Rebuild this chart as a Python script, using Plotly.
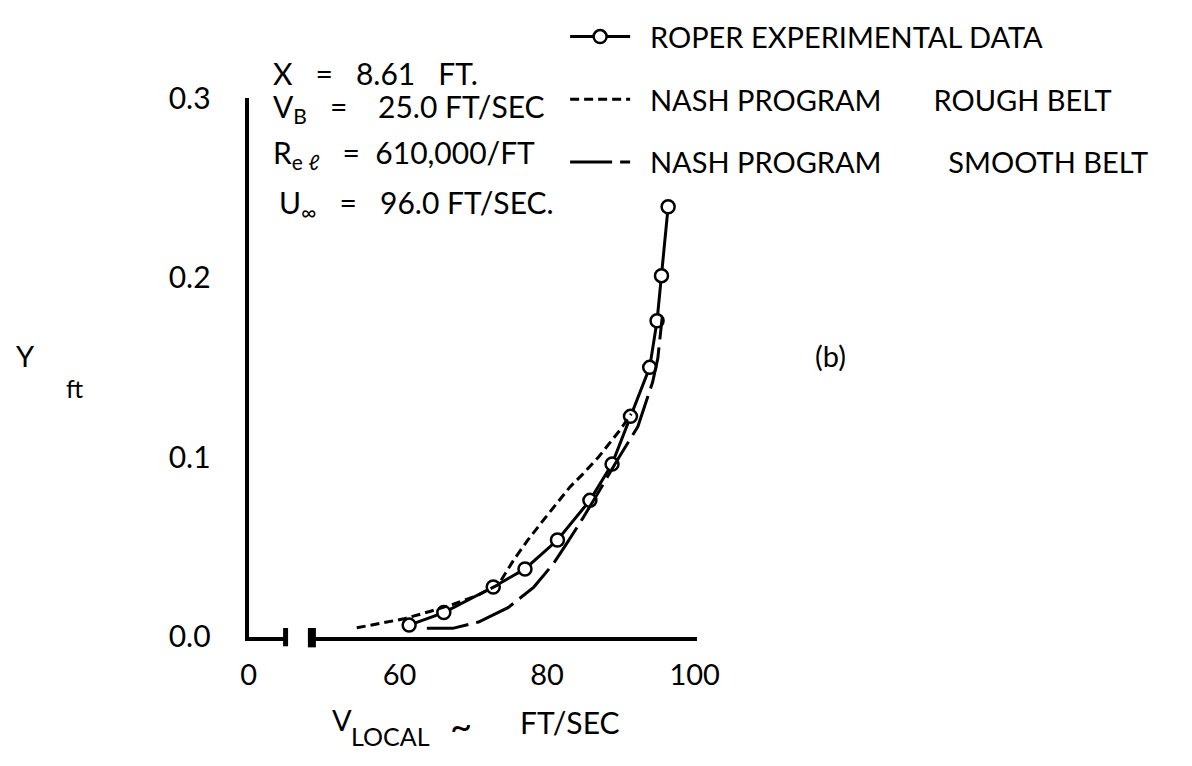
import plotly.graph_objects as go

# ---------------- data ----------------
roper_v = [61.3, 66.0, 72.7, 77.0, 81.4, 85.8, 88.8, 91.3, 93.9, 94.9, 95.5, 96.4]
roper_y = [0.0064, 0.0134, 0.0276, 0.0377, 0.0538, 0.0759, 0.0961, 0.1227, 0.150, 0.176, 0.2011, 0.2395]

rough_v = [54.2, 60.6, 64.1, 67.2, 70.5, 73.4, 75.6, 77.3, 79.3, 81.3, 83.1, 84.8, 87.0, 89.9, 91.4]
rough_y = [0.0049, 0.0099, 0.0140, 0.0179, 0.0228, 0.0290, 0.0435, 0.0533, 0.0639, 0.0745, 0.0834, 0.0904, 0.1002, 0.1152, 0.1241]

smooth_v = [63.7, 67.2, 70.7, 74.7, 78.2, 80.9, 82.6, 84.8, 87.0, 89.4, 92.3, 94.3, 95.0, 95.6]
smooth_y = [0.0046, 0.0046, 0.0081, 0.0161, 0.0276, 0.0409, 0.0515, 0.0657, 0.0807, 0.0976, 0.117, 0.1418, 0.155, 0.178]

y_ticks = [0.0, 0.1, 0.2, 0.3]
y_ticktext = ["0.0", "0.1", "0.2", "0.3"]
x_left_ticks = [0]
x_right_ticks = [60, 80, 100]

FONT = "Lato"
W, H = 1192, 766
NB = "\u00a0"

fig = go.Figure()

# empty trace so that the short left piece of the broken x axis is drawn
fig.add_trace(go.Scatter(x=[], y=[], xaxis="x", yaxis="y", mode="lines",
                         showlegend=False, hoverinfo="skip"))

fig.add_trace(go.Scatter(
    x=roper_v, y=roper_y, xaxis="x2", yaxis="y", mode="lines+markers",
    name=NB * 2 + "ROPER EXPERIMENTAL DATA", legendgroup="a",
    line=dict(color="black", width=3),
    marker=dict(symbol="circle", size=13, color="white", line=dict(color="black", width=2.5)),
))
fig.add_trace(go.Scatter(
    x=rough_v, y=rough_y, xaxis="x2", yaxis="y", mode="lines",
    name=NB * 2 + "NASH PROGRAM" + NB * 7 + "ROUGH BELT", legendgroup="b",
    line=dict(color="black", width=3, dash="9px,5px"),
))
fig.add_trace(go.Scatter(
    x=smooth_v, y=smooth_y, xaxis="x2", yaxis="y", mode="lines",
    name=NB * 2 + "NASH PROGRAM" + NB * 9 + "SMOOTH BELT", legendgroup="c",
    line=dict(color="black", width=3, dash="42px,8px"),
))

def px_x(p):
    return p / W

def px_y(p):
    return 1 - p / H

axis_common = dict(showline=True, linecolor="black", linewidth=4, showgrid=False,
                   zeroline=False, ticks="", fixedrange=True)

fig.update_layout(
    width=W, height=H,
    margin=dict(l=0, r=0, t=0, b=0),
    paper_bgcolor="white", plot_bgcolor="white",
    font=dict(family=FONT, color="black", size=28),
    xaxis=dict(domain=[px_x(247), px_x(285)], range=[0, 5.0], anchor="y",
               tickvals=x_left_ticks, ticktext=[str(v) for v in x_left_ticks],
               ticklabelstandoff=10, tickfont=dict(family=FONT, size=29, color="black"),
               **axis_common),
    xaxis2=dict(domain=[px_x(312), px_x(707)], range=[48.12, 100.26], anchor="y",
                tickvals=x_right_ticks, ticktext=[str(v) for v in x_right_ticks],
                ticklabelstandoff=10, tickfont=dict(family=FONT, size=29, color="black"),
                **axis_common),
    yaxis=dict(domain=[px_y(647), px_y(82)], range=[0, 0.3], anchor="x",
               tickvals=y_ticks, ticktext=y_ticktext, ticklabelstandoff=28,
               tickfont=dict(family=FONT, size=30, color="black"), **axis_common),
    showlegend=True,
    legend=dict(x=px_x(572), y=1.012, xanchor="left", yanchor="top",
                font=dict(family=FONT, size=29, color="black"),
                traceorder="grouped", tracegroupgap=22, itemwidth=60,
                bgcolor="rgba(0,0,0,0)", borderwidth=0),
)

# axis-break end marks
fig.add_shape(type="line", xref="x domain", yref="y domain", x0=1, x1=1, y0=-0.018, y1=0.016,
              line=dict(color="black", width=5))
fig.add_shape(type="line", xref="x2 domain", yref="y domain", x0=0, x1=0, y0=-0.02, y1=0.016,
              line=dict(color="black", width=8))

def ann(text, x, y, size=30, xanchor="left"):
    fig.add_annotation(text=text, xref="paper", yref="paper", x=px_x(x), y=px_y(y),
                       xanchor=xanchor, yanchor="middle", showarrow=False,
                       font=dict(family=FONT, size=size, color="black"))

ann("X" + NB * 3 + "=" + NB * 3 + "8.61" + NB * 3 + "FT.", 270, 56)
ann("V<sub>B</sub>" + NB * 3 + "=" + NB * 4 + "25.0 FT/SEC", 270, 92)
ann("R<sub>e ℓ</sub>" + NB * 3 + "=" + NB * 2 + "610,000/FT", 270, 141)
ann("U<sub>∞</sub>" + NB * 3 + "=" + NB * 3 + "96.0 FT/SEC.", 276, 193)

ann("Y", 6, 352, size=29)
ann("ft", 58, 386, size=25)
ann("(b)", 826, 352, size=29)

ann("V", 331, 734, size=29)
ann("LOCAL", 350, 751, size=25)
ann("~", 452, 740, size=38)
ann("FT/SEC", 524, 737, size=30)

fig.write_html("out.html")
